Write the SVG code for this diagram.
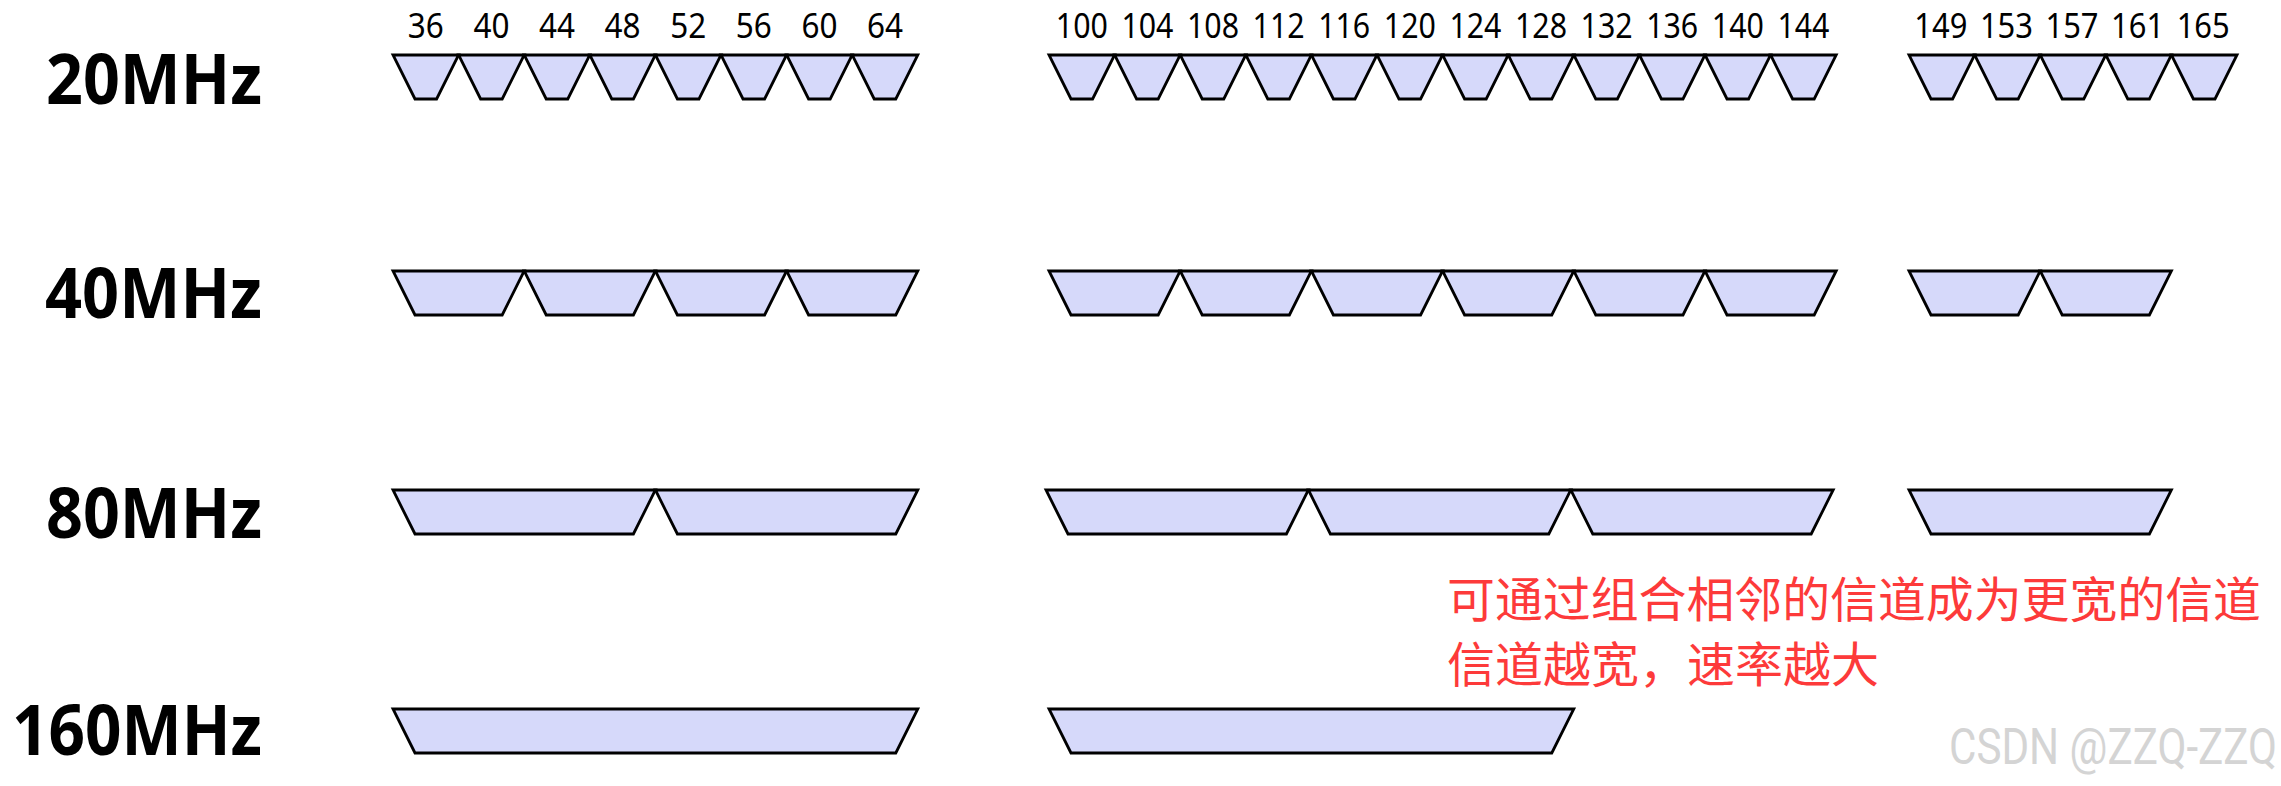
<svg xmlns="http://www.w3.org/2000/svg" width="2281" height="786" viewBox="0 0 2281 786">
<style>
.ch{fill:#d6d9fa;stroke:#000;stroke-width:2.8;stroke-linejoin:miter}
.mhz{font-family:"Noto Sans","DejaVu Sans",sans-serif;font-weight:bold;font-size:70px;fill:#000}
.num{font-family:"Noto Sans","DejaVu Sans",sans-serif;font-size:35px;fill:#000;text-anchor:middle}
.note{font-family:"Noto Sans CJK SC",sans-serif;font-size:48px;fill:#fd3a3a}
.wm{font-family:"Roboto","Liberation Sans",sans-serif;font-size:50px;fill:#d4d4d4}
</style>
<defs>
<polygon id="ch20" class="ch" points="0,0 65.6,0 43.6,44 22,44"/>
<polygon id="ch40" class="ch" points="0,0 131.2,0 109.2,44 22,44"/>
<polygon id="ch80" class="ch" points="0,0 262.4,0 240.4,44 22,44"/>
<polygon id="ch160" class="ch" points="0,0 524.8,0 502.8,44 22,44"/>
</defs>
<rect width="2281" height="786" fill="#fff"/>

<g id="labels">
<text class="mhz" x="46" y="104" textLength="216" lengthAdjust="spacingAndGlyphs">20MHz</text>
<text class="mhz" x="45" y="318" textLength="217" lengthAdjust="spacingAndGlyphs">40MHz</text>
<text class="mhz" x="46" y="538" textLength="216" lengthAdjust="spacingAndGlyphs">80MHz</text>
<text class="mhz" x="12" y="755" textLength="250" lengthAdjust="spacingAndGlyphs">160MHz</text>
</g>

<g id="numbers">
<text class="num" x="425.8" y="38" textLength="36" lengthAdjust="spacingAndGlyphs">36</text>
<text class="num" x="491.4" y="38" textLength="36" lengthAdjust="spacingAndGlyphs">40</text>
<text class="num" x="557" y="38" textLength="36" lengthAdjust="spacingAndGlyphs">44</text>
<text class="num" x="622.6" y="38" textLength="36" lengthAdjust="spacingAndGlyphs">48</text>
<text class="num" x="688.2" y="38" textLength="36" lengthAdjust="spacingAndGlyphs">52</text>
<text class="num" x="753.8" y="38" textLength="36" lengthAdjust="spacingAndGlyphs">56</text>
<text class="num" x="819.4" y="38" textLength="36" lengthAdjust="spacingAndGlyphs">60</text>
<text class="num" x="885" y="38" textLength="36" lengthAdjust="spacingAndGlyphs">64</text>
<text class="num" x="1081.8" y="38" textLength="52" lengthAdjust="spacingAndGlyphs">100</text>
<text class="num" x="1147.4" y="38" textLength="52" lengthAdjust="spacingAndGlyphs">104</text>
<text class="num" x="1213" y="38" textLength="52" lengthAdjust="spacingAndGlyphs">108</text>
<text class="num" x="1278.6" y="38" textLength="52" lengthAdjust="spacingAndGlyphs">112</text>
<text class="num" x="1344.2" y="38" textLength="52" lengthAdjust="spacingAndGlyphs">116</text>
<text class="num" x="1409.8" y="38" textLength="52" lengthAdjust="spacingAndGlyphs">120</text>
<text class="num" x="1475.4" y="38" textLength="52" lengthAdjust="spacingAndGlyphs">124</text>
<text class="num" x="1541" y="38" textLength="52" lengthAdjust="spacingAndGlyphs">128</text>
<text class="num" x="1606.6" y="38" textLength="52" lengthAdjust="spacingAndGlyphs">132</text>
<text class="num" x="1672.2" y="38" textLength="52" lengthAdjust="spacingAndGlyphs">136</text>
<text class="num" x="1737.8" y="38" textLength="52" lengthAdjust="spacingAndGlyphs">140</text>
<text class="num" x="1803.4" y="38" textLength="52" lengthAdjust="spacingAndGlyphs">144</text>
<text class="num" x="1940.8" y="38" textLength="53" lengthAdjust="spacingAndGlyphs">149</text>
<text class="num" x="2006.4" y="38" textLength="53" lengthAdjust="spacingAndGlyphs">153</text>
<text class="num" x="2072" y="38" textLength="53" lengthAdjust="spacingAndGlyphs">157</text>
<text class="num" x="2137.6" y="38" textLength="53" lengthAdjust="spacingAndGlyphs">161</text>
<text class="num" x="2203.2" y="38" textLength="53" lengthAdjust="spacingAndGlyphs">165</text>
</g>

<g id="row-20MHz">
<use href="#ch20" x="393" y="55"/><use href="#ch20" x="458.6" y="55"/><use href="#ch20" x="524.2" y="55"/><use href="#ch20" x="589.8" y="55"/>
<use href="#ch20" x="655.4" y="55"/><use href="#ch20" x="721" y="55"/><use href="#ch20" x="786.6" y="55"/><use href="#ch20" x="852.2" y="55"/>
<use href="#ch20" x="1049" y="55"/><use href="#ch20" x="1114.6" y="55"/><use href="#ch20" x="1180.2" y="55"/><use href="#ch20" x="1245.8" y="55"/>
<use href="#ch20" x="1311.4" y="55"/><use href="#ch20" x="1377" y="55"/><use href="#ch20" x="1442.6" y="55"/><use href="#ch20" x="1508.2" y="55"/>
<use href="#ch20" x="1573.8" y="55"/><use href="#ch20" x="1639.4" y="55"/><use href="#ch20" x="1705" y="55"/><use href="#ch20" x="1770.6" y="55"/>
<use href="#ch20" x="1909" y="55"/><use href="#ch20" x="1974.6" y="55"/><use href="#ch20" x="2040.2" y="55"/><use href="#ch20" x="2105.8" y="55"/><use href="#ch20" x="2171.4" y="55"/>
</g>

<g id="row-40MHz">
<use href="#ch40" x="393" y="271"/><use href="#ch40" x="524.2" y="271"/><use href="#ch40" x="655.4" y="271"/><use href="#ch40" x="786.6" y="271"/>
<use href="#ch40" x="1049" y="271"/><use href="#ch40" x="1180.2" y="271"/><use href="#ch40" x="1311.4" y="271"/><use href="#ch40" x="1442.6" y="271"/><use href="#ch40" x="1573.8" y="271"/><use href="#ch40" x="1705" y="271"/>
<use href="#ch40" x="1909" y="271"/><use href="#ch40" x="2040.2" y="271"/>
</g>

<g id="row-80MHz">
<use href="#ch80" x="393" y="490"/><use href="#ch80" x="655.4" y="490"/>
<use href="#ch80" x="1046" y="490"/><use href="#ch80" x="1308.4" y="490"/><use href="#ch80" x="1570.8" y="490"/>
<use href="#ch80" x="1909" y="490"/>
</g>

<g id="row-160MHz">
<use href="#ch160" x="393" y="709"/>
<use href="#ch160" x="1049" y="709"/>
</g>

<g id="note">
<text class="note" x="1447" y="617" textLength="814" lengthAdjust="spacingAndGlyphs">可通过组合相邻的信道成为更宽的信道</text>
<text class="note" x="1447" y="682">信道越宽，速率越大</text>
</g>

<g id="connectors"/>

<text class="wm" x="1949" y="764" textLength="328" lengthAdjust="spacingAndGlyphs">CSDN @ZZQ-ZZQ</text>
</svg>
